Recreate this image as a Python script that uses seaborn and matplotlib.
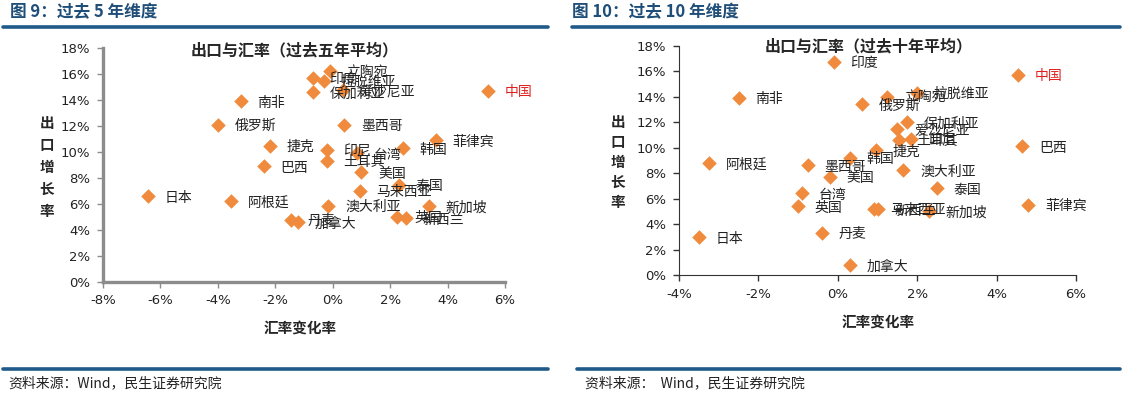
import pandas as pd
import matplotlib.pyplot as plt
import matplotlib.lines as mlines
import seaborn as sns
from matplotlib.ticker import PercentFormatter

# ==============================
# Dados (leitura aproximada do gráfico)
# ==============================
paises_5 = ["中国", "南非", "俄罗斯", "捷克", "巴西", "阿根廷", "日本", "丹麦", "加拿大",
            "澳大利亚", "马来西亚", "泰国", "新加坡", "英国", "新西兰", "美国", "印尼",
            "土耳其", "台湾", "韩国", "菲律宾", "墨西哥", "保加利亚", "爱沙尼亚", "印度",
            "拉脱维亚", "立陶宛"]
cambio_5 = [5.4, -3.2, -4.0, -2.2, -2.4, -3.55, -6.45, -1.45, -1.2,
            -0.15, 0.95, 2.3, 3.35, 2.25, 2.55, 1.0, -0.2,
            -0.2, 0.85, 2.45, 3.6, 0.4, -0.7, 0.35, -0.7,
            -0.3, -0.1]
export_5 = [14.7, 13.9, 12.1, 10.5, 8.9, 6.2, 6.6, 4.8, 4.6,
            5.85, 7.0, 7.5, 5.85, 5.0, 4.9, 8.45, 10.15,
            9.3, 9.9, 10.3, 10.9, 12.1, 14.6, 14.8, 15.7,
            15.5, 16.2]

paises_10 = ["中国", "印度", "南非", "阿根廷", "日本", "巴西", "菲律宾", "加拿大", "丹麦",
             "英国", "台湾", "墨西哥", "美国", "韩国", "捷克", "澳大利亚", "泰国",
             "马来西亚", "新西兰", "新加坡", "俄罗斯", "立陶宛", "拉脱维亚", "保加利亚",
             "爱沙尼亚", "土耳其", "印尼"]
cambio_10 = [4.55, -0.1, -2.5, -3.25, -3.5, 4.65, 4.8, 0.3, -0.4,
             -1.0, -0.9, -0.75, -0.2, 0.3, 0.95, 1.65, 2.5,
             0.9, 1.0, 2.3, 0.6, 1.25, 2.0, 1.75,
             1.5, 1.55, 1.85]
export_10 = [15.7, 16.7, 13.9, 8.8, 2.95, 10.1, 5.5, 0.75, 3.3,
             5.4, 6.4, 8.6, 7.7, 9.2, 9.8, 8.2, 6.8,
             5.2, 5.15, 5.0, 13.4, 14.0, 14.3, 12.0,
             11.45, 10.6, 10.65]

# ==============================
# Configurações
# ==============================
sns.set_theme(style="white")
plt.rcParams["font.family"] = ["Noto Sans CJK SC", "DejaVu Sans"]
plt.rcParams["axes.unicode_minus"] = False
LARANJA = "#F08A3C"
AZUL = "#1F5A8A"

fig = plt.figure(figsize=(11.24, 3.98), dpi=100)


def painel(ax, paises, cambio, export, xlim, cor_eixo, lw_eixo):
    df = pd.DataFrame({"pais": paises, "x": cambio, "y": export})
    sns.scatterplot(data=df, x="x", y="y", ax=ax, marker="D", s=55,
                    color=LARANJA, edgecolor=LARANJA, linewidth=0, zorder=3)
    for _, r in df.iterrows():
        ax.annotate(r["pais"], (r["x"], r["y"]), xytext=(12, -1),
                    textcoords="offset points", va="center", fontsize=10,
                    color="#E0201E" if r["pais"] == "中国" else "#222222")
    ax.set_xlim(*xlim)
    ax.set_ylim(0, 18)
    ax.set_xticks(range(xlim[0], xlim[1] + 1, 2))
    ax.set_yticks(range(0, 19, 2))
    ax.xaxis.set_major_formatter(PercentFormatter(decimals=0))
    ax.yaxis.set_major_formatter(PercentFormatter(decimals=0))
    ax.set_xlabel("")
    ax.set_ylabel("")
    for s in ["top", "right"]:
        ax.spines[s].set_visible(False)
    for s in ["left", "bottom"]:
        ax.spines[s].set_color(cor_eixo)
        ax.spines[s].set_linewidth(lw_eixo)
    ax.tick_params(axis="both", which="major", length=4, width=1, color=cor_eixo,
                   direction="out", bottom=True, left=True, labelsize=9.5,
                   labelcolor="#222222", pad=5)
    for lbl in ax.get_xticklabels() + ax.get_yticklabels():
        lbl.set_family(["DejaVu Sans"])


# ==============================
# Painel 1: últimos 5 anos
# ==============================
ax1 = fig.add_axes([103 / 1124, 1 - 282 / 398, 402 / 1124, 234 / 398])
painel(ax1, paises_5, cambio_5, export_5, (-8, 6), "#8C8C8C", 2.4)

# ==============================
# Painel 2: últimos 10 anos
# ==============================
ax2 = fig.add_axes([679 / 1124, 1 - 275 / 398, 397 / 1124, 229.5 / 398])
painel(ax2, paises_10, cambio_10, export_10, (-4, 6), "#333333", 0.8)

# ==============================
# Títulos, rótulos e rodapés
# ==============================
fig.text(295 / 1124, 1 - 50 / 398, "出口与汇率（过去五年平均）", ha="center", va="center",
         fontsize=11.5, fontweight="bold")
fig.text(869 / 1124, 1 - 46 / 398, "出口与汇率（过去十年平均）", ha="center", va="center",
         fontsize=11.5, fontweight="bold")

fig.text(47 / 1124, 1 - 167 / 398, "出\n口\n增\n长\n率", ha="center", va="center",
         fontsize=10.5, fontweight="bold", linespacing=1.45)
fig.text(618 / 1124, 1 - 162 / 398, "出\n口\n增\n长\n率", ha="center", va="center",
         fontsize=10.5, fontweight="bold", linespacing=1.3)

fig.text(300 / 1124, 1 - 328 / 398, "汇率变化率", ha="center", va="center",
         fontsize=10.5, fontweight="bold")
fig.text(878 / 1124, 1 - 322 / 398, "汇率变化率", ha="center", va="center",
         fontsize=10.5, fontweight="bold")

fig.text(10 / 1124, 1 - 12 / 398, "图 9：过去 5 年维度", ha="left", va="center",
         fontsize=12, fontweight="bold", color="#1F4E79")
fig.text(572 / 1124, 1 - 12 / 398, "图 10：过去 10 年维度", ha="left", va="center",
         fontsize=12, fontweight="bold", color="#1F4E79")

for x0, x1, y in [(3, 548, 27), (572, 1120, 27), (3, 548, 369), (577, 1120, 369)]:
    fig.add_artist(mlines.Line2D([x0 / 1124, x1 / 1124], [1 - y / 398, 1 - y / 398],
                                 color=AZUL, linewidth=2.6, transform=fig.transFigure))

fig.text(8 / 1124, 1 - 383 / 398, "资料来源：Wind，民生证券研究院", ha="left", va="center",
         fontsize=10, color="#222222")
fig.text(585 / 1124, 1 - 383 / 398, "资料来源：  Wind，民生证券研究院", ha="left", va="center",
         fontsize=10, color="#222222")

plt.savefig("out.png", dpi=100)
plt.close()
